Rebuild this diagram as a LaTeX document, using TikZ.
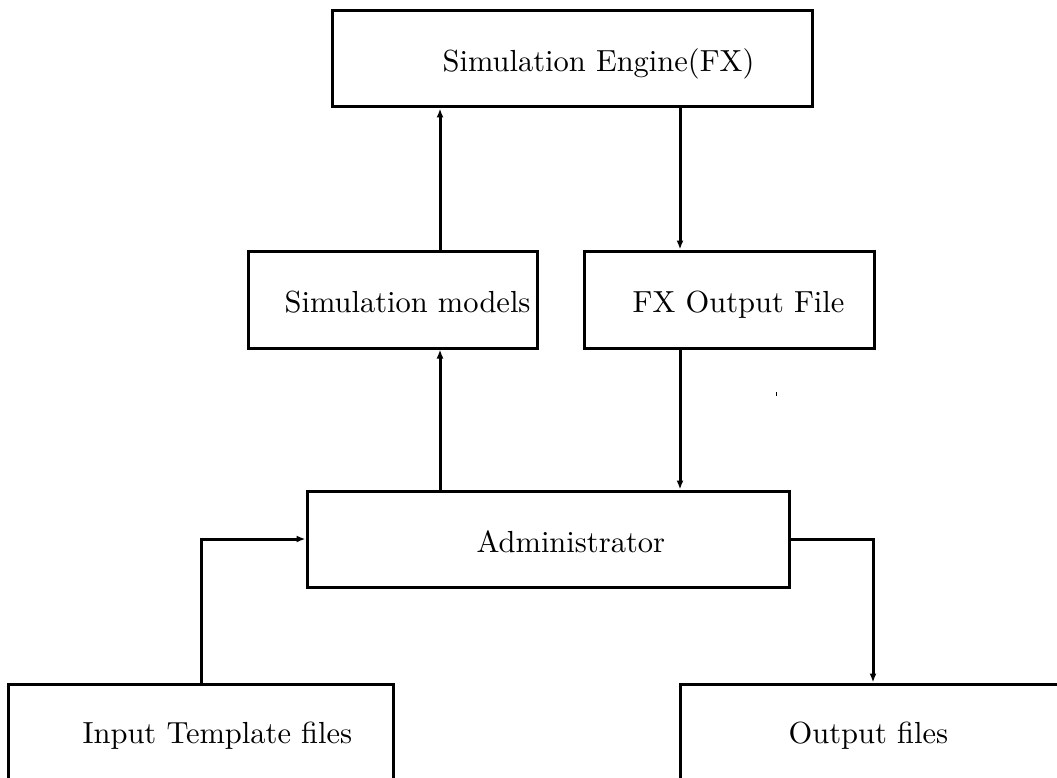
\documentclass[tikz,border=0pt]{standalone}
\usetikzlibrary{arrows.meta}
\begin{document}
\begin{tikzpicture}[x=1pt,y=-1pt,
  box/.style={draw,line width=3pt,rectangle,inner sep=0pt},
  lbl/.style={anchor=base west,inner sep=0pt,scale=3.05},
  arr/.style={line width=3pt,-{Latex[length=9pt,width=7pt]}},
  link/.style={line width=3pt}]
\useasboundingbox (0,0) rectangle (1057,778);
\clip (0,0) rectangle (1057,778);

% boxes
\node[box,minimum width=480pt,minimum height=96pt] (eng) at (572,59) {};
\node[box,minimum width=289pt,minimum height=97pt] (sm)  at (392.5,299.5) {};
\node[box,minimum width=290pt,minimum height=97pt] (fx)  at (729,299.5) {};
\node[box,minimum width=482pt,minimum height=96pt] (adm) at (548,539) {};
\node[box,minimum width=385pt,minimum height=200pt] (inp) at (200.5,784) {};
\node[box,minimum width=440pt,minimum height=200pt] (out) at (900,784) {};

% labels
\node[lbl] (tEng) at (442,72)  {Simulation Engine(FX)};
\node[lbl] (tSm)  at (284,312) {Simulation models};
\node[lbl] (tFx)  at (632,312) {FX Output File};
\node[lbl] (tAdm) at (476,552) {Administrator};
\node[lbl] (tInp) at (82,743)  {Input Template files};
\node[lbl] (tOut) at (788,743) {Output files};

% columns of the connectors
\coordinate (up)  at (440,0);
\coordinate (dn)  at (680,0);
\coordinate (inx) at (201,0);
\coordinate (otx) at (873,0);

% connectors
\draw[arr] (sm.north -| up) -- (eng.south -| up);
\draw[arr] (eng.south -| dn) -- (fx.north -| dn);
\draw[arr] (adm.north -| up) -- (sm.south -| up);
\draw[arr] (fx.south -| dn) -- (adm.north -| dn);
\draw[arr] (inp.north -| inx) |- (adm.west);
\draw[arr] (adm.east) -| (out.north -| otx);

% stray speck
\fill (775.5,392) rectangle (777,396);
\end{tikzpicture}
\end{document}
